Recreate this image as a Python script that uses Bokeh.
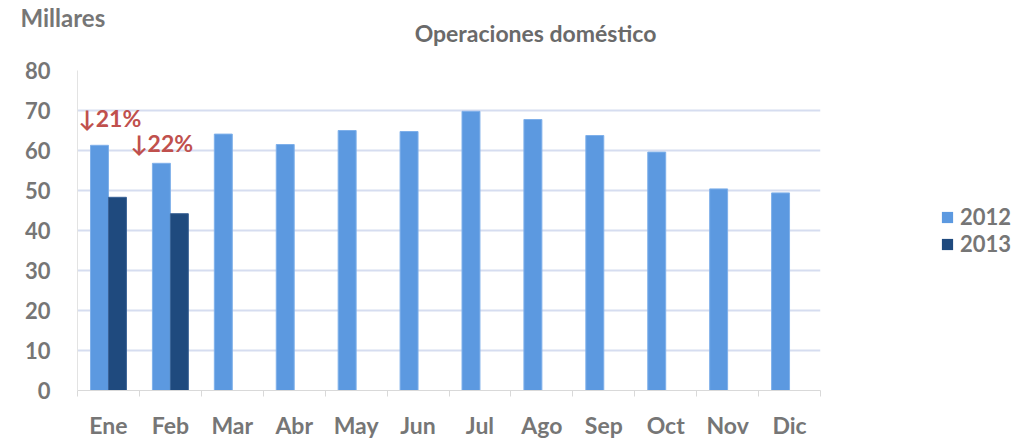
from bokeh.plotting import figure
from bokeh.layouts import column, row
from bokeh.models import (ColumnDataSource, FactorRange, Range1d, LinearAxis, FixedTicker,
                          Label, Legend, LegendItem, CustomJSTickFormatter, CategoricalAxis)
from bokeh.transform import dodge
from bokeh.embed import file_html
from bokeh.resources import INLINE

months = ["Ene", "Feb", "Mar", "Abr", "May", "Jun", "Jul", "Ago", "Sep", "Oct", "Nov", "Dic"]
values_2012 = [61.3, 56.8, 64.1, 61.5, 65.0, 64.75, 69.8, 67.75, 63.75, 59.6, 50.4, 49.4]
months_2013 = ["Ene", "Feb"]
values_2013 = [48.3, 44.2]
series_names = ["2012", "2013"]
change_labels = ["↓21%", "↓22%"]
y_ticks = [0, 10, 20, 30, 40, 50, 60, 70, 80]

FONT = "Lato"
GRAY = "#767676"
COLORS = ["#5C99E0", "#1F4A7E"]
EDGES = ["#7FB0EA", "#3A6296"]


def blank(width, height):
    f = figure(width=width, height=height, x_range=Range1d(0, 1), y_range=Range1d(0, 1),
               output_backend="svg", toolbar_location=None, min_border=0,
               x_axis_location=None, y_axis_location=None, outline_line_color=None)
    f.grid.visible = False
    return f


# ---------- header ----------
header = blank(1030, 50)
header.add_layout(Label(x=20, y=33, x_units="screen", y_units="screen", text="Millares",
                        text_font=FONT, text_font_size="24px", text_font_style="bold",
                        text_color=GRAY, text_align="left", text_baseline="middle"))
header.add_layout(Label(x=535, y=18, x_units="screen", y_units="screen", text="Operaciones doméstico",
                        text_font=FONT, text_font_size="23px", text_font_style="bold",
                        text_color="#6A6A6A", text_align="center", text_baseline="middle"))

# ---------- main chart ----------
p = figure(width=840, height=391, x_range=FactorRange(*months, range_padding=0, factor_padding=0),
           y_range=Range1d(0, 80), output_backend="svg", toolbar_location=None,
           min_border_left=77, min_border_right=20, min_border_top=20, min_border_bottom=51,
           outline_line_color=None, x_axis_location=None)

src12 = ColumnDataSource(dict(m=months, v=values_2012))
src13 = ColumnDataSource(dict(m=months_2013, v=values_2013))
p.vbar(x=dodge("m", -0.145, range=p.x_range), top="v", width=0.29, source=src12,
       fill_color=COLORS[0], line_color=EDGES[0], line_width=1)
p.vbar(x=dodge("m", 0.145, range=p.x_range), top="v", width=0.29, source=src13,
       fill_color=COLORS[1], line_color=EDGES[1], line_width=1)

# boundary tick marks between categories (no labels)
tick_axis = LinearAxis(ticker=FixedTicker(ticks=list(range(len(months) + 1))),
                       formatter=CustomJSTickFormatter(code="return ''"),
                       axis_line_color="#D9D9D9", major_tick_line_color="#D9D9D9",
                       major_tick_out=6, major_tick_in=0, minor_tick_line_color=None,
                       major_label_text_font_size="1px", major_label_standoff=0)
p.add_layout(tick_axis, "below")

cat_axis = CategoricalAxis(axis_line_color=None, major_tick_line_color=None, minor_tick_line_color=None,
                           major_label_text_font=FONT, major_label_text_font_size="23px",
                           major_label_text_font_style="bold", major_label_text_color=GRAY,
                           major_label_standoff=8)
p.add_layout(cat_axis, "below")

p.yaxis.ticker = FixedTicker(ticks=y_ticks)
p.yaxis.axis_line_color = "#E3E3E3"
p.yaxis.major_tick_line_color = None
p.yaxis.minor_tick_line_color = None
p.yaxis.major_label_text_font = FONT
p.yaxis.major_label_text_font_size = "22px"
p.yaxis.major_label_text_font_style = "bold"
p.yaxis.major_label_text_color = GRAY
p.yaxis.major_label_standoff = 21

p.xgrid.grid_line_color = None
p.ygrid.ticker = FixedTicker(ticks=y_ticks)
p.ygrid.grid_line_color = "#D6DDF0"
p.ygrid.grid_line_width = 2

# change annotations
offsets = [(-30, 13), (-40, 6)]
for m, v, t, (dx, dy) in zip(months_2013, values_2012[:2], change_labels, offsets):
    p.add_layout(Label(x=months.index(m) + 0.5, y=v, text=t,
                       x_offset=dx, y_offset=dy, text_font=FONT,
                       text_font_size="23px", text_font_style="bold", text_color="#C0504D",
                       text_baseline="bottom"))

# ---------- legend panel (zero-size proxy glyphs carry the legend colours) ----------
lg = blank(190, 391)
proxy = ColumnDataSource(dict(x=[-10], top=[0]))
lr = [lg.vbar(x="x", top="top", width=0.5, source=proxy, fill_color=c, line_color=None)
      for c in COLORS]
legend = Legend(items=[LegendItem(label=n, renderers=[r]) for n, r in zip(series_names, lr)],
                location=(100, 133), label_text_font=FONT, label_text_font_size="22px",
                label_text_font_style="bold", label_text_color=GRAY, glyph_width=14, glyph_height=14,
                label_height=20, spacing=0, padding=0, margin=0, border_line_color=None,
                background_fill_alpha=0, label_standoff=6)
lg.add_layout(legend, "center")

layout = column(header, row(p, lg, spacing=0), spacing=0)
open("out.html", "w").write(file_html(layout, INLINE))
